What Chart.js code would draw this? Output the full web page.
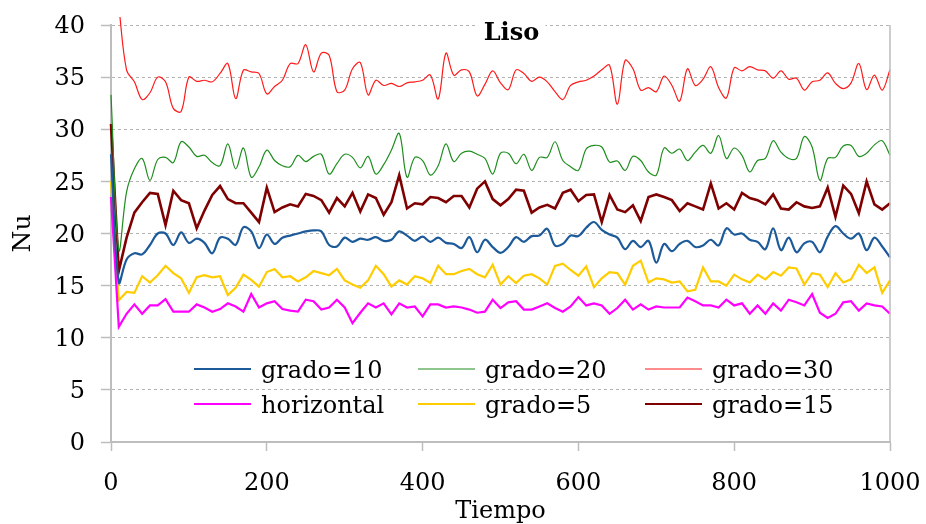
<!DOCTYPE html>
<html>
<head>
<meta charset="utf-8">
<script src="https://cdn.jsdelivr.net/npm/chart.js@4.4.1/dist/chart.umd.min.js"></script>
<style>
html,body{margin:0;padding:0;background:#ffffff;}
canvas{display:block;}
</style>
</head>
<body>
<canvas id="c" width="926" height="524"></canvas>
<script>
// ---- data ----
const times = [
  0,10,20,30,40,50,60,70,80,90,
  100,110,120,130,140,150,160,170,180,190,
  200,210,220,230,240,250,260,270,280,290,
  300,310,320,330,340,350,360,370,380,390,
  400,410,420,430,440,450,460,470,480,490,
  500,510,520,530,540,550,560,570,580,590,
  600,610,620,630,640,650,660,670,680,690,
  700,710,720,730,740,750,760,770,780,790,
  800,810,820,830,840,850,860,870,880,890,
  900,910,920,930,940,950,960,970,980,990,
  1000
];
const seriesLabels = ['grado=10','grado=20','grado=30','horizontal','grado=5','grado=15'];

const grado10 = [
  27.6,15.3,17.5,18.1,18.0,18.9,20.0,20.0,18.9,20.1,
  19.1,19.5,19.1,18.1,19.6,19.5,18.9,20.6,20.2,18.6,
  19.9,19.0,19.6,19.8,20.0,20.2,20.3,20.2,18.9,18.75,
  19.6,19.2,19.5,19.4,19.65,19.3,19.4,20.2,19.8,19.3,
  19.7,19.2,19.6,19.1,19.0,18.6,19.65,18.2,19.4,18.7,
  18.15,18.7,19.65,19.2,19.75,19.8,20.45,18.85,19.0,19.8,
  19.75,20.55,21.1,20.35,19.9,19.6,18.5,19.3,18.7,19.3,
  17.2,19.0,18.3,19.0,19.3,18.7,18.85,19.4,18.85,20.5,
  19.9,20.0,19.4,19.2,18.5,20.5,18.4,19.6,18.2,19.05,
  19.2,18.2,19.7,20.7,20.0,19.5,20.0,18.4,19.6,18.75,
  17.7
];
const grado20 = [
  33.3,18.4,24.0,26.2,27.2,25.1,27.1,27.3,26.8,28.8,
  28.3,27.4,27.5,26.8,26.5,28.6,26.2,28.2,25.4,26.4,
  28.0,27.0,26.5,26.4,27.5,26.9,27.4,27.6,25.7,26.7,
  27.6,27.3,26.3,27.4,25.7,26.6,28.0,29.6,25.4,27.3,
  27.0,25.6,26.5,28.6,26.9,27.7,27.9,27.6,27.2,25.7,
  27.7,27.7,26.7,27.6,26.05,27.3,27.3,28.8,27.0,26.4,
  26.05,28.1,28.45,28.3,26.85,26.95,26.05,27.4,27.0,25.9,
  25.6,28.2,27.7,28.1,27.0,27.8,28.45,27.7,29.4,27.2,
  28.2,27.5,25.9,27.0,27.2,28.9,27.8,27.2,27.2,29.3,
  28.3,25.1,27.2,27.3,28.4,28.45,27.4,27.7,28.5,28.9,
  27.5
];
const grado30 = [
  null,41.8,35.67,34.55,32.85,33.5,35.0,34.55,32.0,31.7,
  35.0,34.6,34.7,34.55,35.35,36.3,32.95,35.67,35.5,35.35,
  33.4,34.1,34.7,36.3,36.3,38.1,35.5,37.3,37.1,33.6,
  33.75,35.8,36.4,33.3,34.7,34.2,34.4,34.1,34.45,34.55,
  34.7,35.2,32.9,37.3,35.2,35.7,35.5,33.2,34.3,35.6,
  34.45,33.8,35.7,35.35,34.6,35.0,34.55,33.6,32.85,34.2,
  34.55,34.7,35.1,35.7,36.15,32.4,36.6,35.8,33.75,34.0,
  33.6,35.1,34.2,32.7,35.8,34.2,34.8,36.0,34.0,33.0,
  35.9,35.6,36.0,35.7,35.6,34.9,35.6,34.8,34.9,33.75,
  34.55,34.7,35.4,34.4,33.9,34.45,36.3,33.8,35.2,33.75,
  35.7
];
const horizontal = [
  23.5,11.05,12.3,13.2,12.3,13.1,13.1,13.7,12.5,12.5,
  12.5,13.2,12.9,12.5,12.75,13.3,13.0,12.5,14.2,12.9,
  13.3,13.5,12.75,12.6,12.5,13.65,13.5,12.7,12.9,13.65,
  12.9,11.4,12.4,13.3,12.9,13.3,12.25,13.3,12.9,13.0,
  12.05,13.2,13.2,12.9,13.0,12.9,12.7,12.4,12.5,13.65,
  12.85,13.4,13.5,12.7,12.7,13.0,13.3,12.85,12.5,13.0,
  13.9,13.1,13.3,13.1,12.3,12.85,13.65,12.7,13.2,12.7,
  13.0,12.9,12.9,12.9,13.85,13.5,13.1,13.1,12.9,13.65,
  13.1,13.3,12.3,13.1,12.3,13.3,12.6,13.65,13.4,13.1,
  14.2,12.4,11.9,12.3,13.4,13.5,12.6,13.3,13.1,13.0,
  12.3
];
const grado5 = [
  25.0,13.6,14.4,14.3,15.9,15.3,16.0,16.9,16.2,15.7,
  14.3,15.8,16.0,15.8,15.9,14.1,14.8,16.05,15.55,14.9,
  16.3,16.6,15.8,15.9,15.4,15.8,16.4,16.2,16.0,16.6,
  15.5,15.1,14.8,15.5,16.9,16.1,14.9,15.5,15.1,15.9,
  15.7,15.25,16.9,16.1,16.1,16.4,16.6,16.1,15.8,17.0,
  15.1,15.9,15.25,15.95,16.1,15.7,15.1,16.9,17.1,16.5,
  15.95,16.85,14.85,15.7,16.3,16.2,15.1,16.9,17.4,15.3,
  15.7,15.6,15.3,15.4,14.45,14.6,16.75,15.4,15.4,15.0,
  16.05,15.6,15.3,16.05,15.6,16.3,15.95,16.75,16.65,15.1,
  16.2,16.05,14.85,16.2,15.3,15.6,17.0,16.2,16.75,14.3,
  15.5
];
const grado15 = [
  30.5,16.4,19.6,22.0,23.0,23.9,23.8,20.8,24.1,23.2,
  22.9,20.5,22.2,23.7,24.55,23.3,22.9,22.9,22.0,21.1,
  24.4,22.05,22.5,22.8,22.6,23.8,23.6,23.2,22.0,23.4,
  22.6,23.9,22.1,23.75,23.4,21.8,23.0,25.6,22.4,22.9,
  22.8,23.5,23.4,23.0,23.6,23.6,22.5,24.3,25.0,23.3,
  22.7,23.3,24.2,24.1,22.0,22.5,22.75,22.4,23.9,24.2,
  23.1,23.7,23.75,21.1,23.7,22.3,22.05,22.7,21.2,23.5,
  23.75,23.5,23.2,22.15,22.9,22.6,22.3,24.8,22.4,22.9,
  22.3,23.9,23.4,23.2,22.8,23.75,22.4,22.3,23.0,22.6,
  22.45,22.6,24.4,21.6,24.6,23.8,21.95,25.0,22.8,22.3,
  22.9
];
const yTickValues = [0,5,10,15,20,25,30,35,40];
const xTickValues = [0,200,400,600,800,1000];

// ---- styling ----
const FONT = '"DejaVu Serif", "Liberation Serif", serif';
const AXIS_GREY = '#bdbdbd';

function toPoints(vals){ return times.map((t,i)=>({x:t, y:vals[i]})); }

const seriesValues = [grado10, grado20, grado30, horizontal, grado5, grado15];
const seriesColors = ['#1c5a9a','#1e8e1e','#ff1a1a','#ff00ff','#ffcc00','#7f0000'];
const seriesWidths = [2.2, 1.2, 1.2, 2.2, 2.2, 2.6];
const seriesTension = [0.35, 0.35, 0.35, 0, 0, 0];

const datasets = seriesValues.map((vals,i)=>({
  label: seriesLabels[i],
  data: toPoints(vals),
  borderColor: seriesColors[i],
  backgroundColor: seriesColors[i],
  borderWidth: seriesWidths[i],
  pointRadius: 0,
  pointHoverRadius: 0,
  tension: seriesTension[i],
  fill: false,
  spanGaps: false,
  clip: {left: 4, top: 8, right: 4, bottom: 4}
}));

const titlePlugin = {
  id: 'lisoTitle',
  beforeDatasetsDraw(chart){
    const ctx = chart.ctx, a = chart.chartArea;
    const cx = a.left + (a.right - a.left) * 0.514;
    ctx.save();
    ctx.fillStyle = '#ffffff';
    ctx.fillRect(cx - 34, a.top - 10, 68, 34);
    ctx.fillStyle = '#000000';
    ctx.font = 'bold 24px ' + FONT;
    ctx.textAlign = 'center';
    ctx.textBaseline = 'alphabetic';
    ctx.fillText('Liso', cx, a.top + 15);
    ctx.restore();
  }
};

const framePlugin = {
  id: 'rightFrame',
  afterDatasetsDraw(chart){
    const ctx = chart.ctx, a = chart.chartArea;
    ctx.save();
    ctx.strokeStyle = AXIS_GREY;
    ctx.lineWidth = 1.5;
    ctx.beginPath();
    ctx.moveTo(a.right, a.top);
    ctx.lineTo(a.right, a.bottom);
    ctx.stroke();
    ctx.restore();
  }
};

const legendCols = [194, 418, 645];
const legendRows = [369, 404];
const legendPlugin = {
  id: 'gridLegend',
  afterDraw(chart){
    const ctx = chart.ctx;
    ctx.save();
    chart.data.datasets.forEach((ds,i)=>{
      const x = legendCols[i % 3], y = legendRows[Math.floor(i / 3)];
      ctx.strokeStyle = ds.borderColor;
      ctx.lineWidth = Math.min(ds.borderWidth, 2.2);
      ctx.beginPath();
      ctx.moveTo(x, y);
      ctx.lineTo(x + 57, y);
      ctx.stroke();
      ctx.fillStyle = '#000000';
      ctx.font = '24px ' + FONT;
      ctx.textAlign = 'left';
      ctx.textBaseline = 'alphabetic';
      ctx.fillText(ds.label, x + 67, y + 9);
    });
    ctx.restore();
  }
};

function noScalePadding(scale){
  scale.paddingTop = 0; scale.paddingBottom = 0;
  scale.paddingLeft = 0; scale.paddingRight = 0;
}

new Chart(document.getElementById('c'), {
  type: 'line',
  data: { datasets },
  plugins: [titlePlugin, framePlugin, legendPlugin],
  options: {
    responsive: false,
    animation: false,
    devicePixelRatio: 1,
    layout: { padding: { left: 0, right: 36, top: 25, bottom: 0 } },
    plugins: { legend: { display: false }, tooltip: { enabled: false } },
    scales: {
      x: {
        type: 'linear',
        min: 0, max: 1000,
        afterFit(scale){ scale.height = 82; noScalePadding(scale); },
        afterBuildTicks(scale){ scale.ticks = xTickValues.map(v=>({value:v})); },
        grid: { drawOnChartArea: false, drawTicks: true, tickLength: 9, tickColor: AXIS_GREY, tickWidth: 1.5, color: AXIS_GREY },
        border: { display: true, color: AXIS_GREY, width: 2 },
        ticks: { color: '#000', font: { family: FONT, size: 24 }, padding: 18, maxRotation: 0, callback: v => String(v) },
        title: { display: true, text: 'Tiempo', color: '#000', font: { family: FONT, size: 24, lineHeight: 1.2 }, padding: { top: 0, bottom: -2 } }
      },
      y: {
        type: 'linear',
        min: 0, max: 40,
        afterFit(scale){ scale.width = 111; noScalePadding(scale); },
        afterBuildTicks(scale){ scale.ticks = yTickValues.map(v=>({value:v})); },
        grid: { drawOnChartArea: true, drawTicks: true, tickLength: 10, color: '#b4b4b4', lineWidth: 1, tickColor: AXIS_GREY, tickWidth: 1.5, tickBorderDash: [] },
        border: { display: true, color: AXIS_GREY, width: 2, dash: [3, 3] },
        ticks: { color: '#000', font: { family: FONT, size: 24 }, padding: 16, labelOffset: 2, callback: v => String(v) },
        title: { display: true, text: 'Nu', color: '#000', font: { family: FONT, size: 25, lineHeight: 1.2 }, padding: { top: 8, bottom: 0 } }
      }
    }
  }
});
</script>
</body>
</html>
